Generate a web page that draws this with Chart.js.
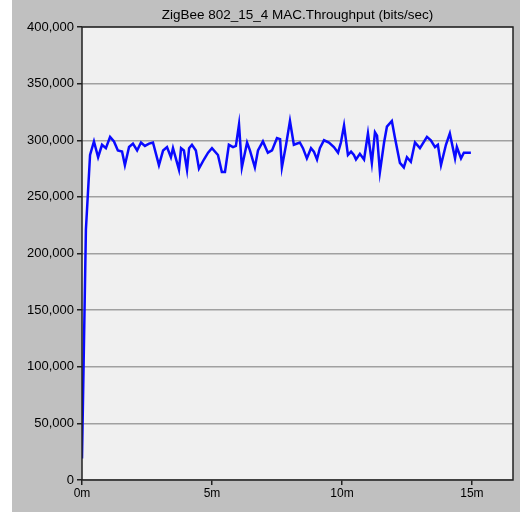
<!DOCTYPE html>
<html>
<head>
<meta charset="utf-8">
<script src="https://cdn.jsdelivr.net/npm/chart.js@4.4.1/dist/chart.umd.min.js"></script>
<style>
    html, body { margin: 0; padding: 0; background: #ffffff; }
    #panel { position: absolute; left: 12px; top: 0; width: 508px; height: 512px; background: #c0c0c0; }
    #chart { position: absolute; left: 0; top: 0; }
</style>
</head>
<body>
<div id="panel"></div>
<canvas id="chart" width="522" height="513"></canvas>
<script>
    const TITLE = "ZigBee 802_15_4 MAC.Throughput (bits/sec)";

    // sample times in minutes
    const timeMin = [
        0, 0.15, 0.31, 0.46, 0.62, 0.77, 0.92, 1.08, 1.23, 1.38,
        1.54, 1.65, 1.81, 1.96, 2.12, 2.27, 2.42, 2.58, 2.73, 2.96,
        3.12, 3.27, 3.42, 3.5, 3.73, 3.81, 3.92, 4.04, 4.12, 4.23,
        4.38, 4.5, 4.69, 4.85, 5.0, 5.23, 5.38, 5.5, 5.65, 5.81,
        5.92, 6.04, 6.15, 6.35, 6.46, 6.65, 6.77, 6.96, 7.15, 7.31,
        7.5, 7.62, 7.69, 7.85, 8.0, 8.15, 8.38, 8.5, 8.65, 8.81,
        8.92, 9.04, 9.15, 9.31, 9.5, 9.69, 9.85, 9.96, 10.08, 10.23,
        10.35, 10.46, 10.54, 10.69, 10.85, 11.0, 11.15, 11.27, 11.35, 11.46,
        11.62, 11.73, 11.92, 12.04, 12.23, 12.38, 12.5, 12.65, 12.81, 13.0,
        13.27, 13.42, 13.58, 13.69, 13.81, 14.0, 14.15, 14.35, 14.42, 14.58,
        14.69, 14.85, 14.96
    ];

    // MAC throughput, bits/sec
    const throughput = [
        19000, 221000, 287000, 299000, 285000, 296000, 293000, 303000, 299000, 291000,
        290000, 278000, 294000, 297000, 291000, 298000, 295000, 297000, 298000, 278000,
        291000, 294000, 285000, 293000, 274000, 293000, 291000, 274000, 293000, 296000,
        291000, 275000, 283000, 289000, 293000, 287000, 272000, 272000, 296000, 294000,
        295000, 314000, 276000, 298000, 291000, 276000, 291000, 299000, 289000, 291000,
        302000, 301000, 276000, 296000, 317000, 296000, 298000, 293000, 284000, 293000,
        290000, 283000, 293000, 300000, 298000, 294000, 289000, 298000, 313000, 287000,
        290000, 287000, 283000, 288000, 283000, 306000, 280000, 307000, 304000, 272000,
        298000, 312000, 317000, 302000, 280000, 276000, 285000, 281000, 298000, 293000,
        303000, 300000, 294000, 296000, 278000, 296000, 306000, 284000, 294000, 284000,
        289000, 289000, 289000
    ];

    const yTicks = [0, 50000, 100000, 150000, 200000, 250000, 300000, 350000, 400000];
    const xTicks = [0, 5, 10, 15];

    const FAMILY = "'Liberation Sans', Arial, sans-serif";

    const plotFrame = {
        id: "plotFrame",
        beforeDraw(chart) {
            const { ctx, chartArea: a } = chart;
            ctx.save();
            ctx.fillStyle = "#f0f0f0";
            ctx.fillRect(a.left, a.top, a.right - a.left, a.bottom - a.top);
            ctx.restore();
        },
        afterDraw(chart) {
            const { ctx, chartArea: a } = chart;
            ctx.save();
            ctx.strokeStyle = "#202020";
            ctx.lineWidth = 1.5;
            ctx.strokeRect(a.left, a.top, a.right - a.left, a.bottom - a.top);
            ctx.fillStyle = "#000000";
            ctx.font = "13.5px " + FAMILY;
            ctx.textAlign = "center";
            ctx.textBaseline = "middle";
            ctx.fillText(TITLE, (a.left + a.right) / 2, 15);
            ctx.restore();
        }
    };

    new Chart(document.getElementById("chart"), {
        type: "line",
        data: {
            datasets: [{
                data: timeMin.map((t, i) => ({ x: t, y: throughput[i] })),
                borderColor: "#0a0aff",
                borderWidth: 2.5,
                pointRadius: 0,
                tension: 0,
                fill: false
            }]
        },
        options: {
            responsive: false,
            animation: false,
            layout: { padding: { top: 27, right: 9, left: 0, bottom: 0 } },
            plugins: {
                legend: { display: false },
                tooltip: { enabled: false }
            },
            scales: {
                x: {
                    type: "linear",
                    min: 0,
                    max: 16.58,
                    afterBuildTicks(scale) { scale.ticks = xTicks.map(v => ({ value: v })); },
                    afterFit(scale) { scale.height = 33; },
                    ticks: {
                        includeBounds: false,
                        color: "#000000",
                        font: { family: FAMILY, size: 12 },
                        padding: 1,
                        maxRotation: 0,
                        callback: v => v + "m"
                    },
                    grid: { drawOnChartArea: false, drawTicks: true, tickLength: 5, tickColor: "#202020", lineWidth: 1.5 },
                    border: { display: false }
                },
                y: {
                    min: 0,
                    max: 400000,
                    afterBuildTicks(scale) { scale.ticks = yTicks.map(v => ({ value: v })); },
                    afterFit(scale) { scale.width = 82; },
                    ticks: {
                        color: "#000000",
                        font: { family: FAMILY, size: 13 },
                        padding: 3,
                        callback: v => v.toLocaleString("en-US")
                    },
                    grid: { color: "#a0a0a0", lineWidth: 1.5, tickLength: 5, tickColor: "#202020" },
                    border: { display: false }
                }
            }
        },
        plugins: [plotFrame]
    });
</script>
</body>
</html>
